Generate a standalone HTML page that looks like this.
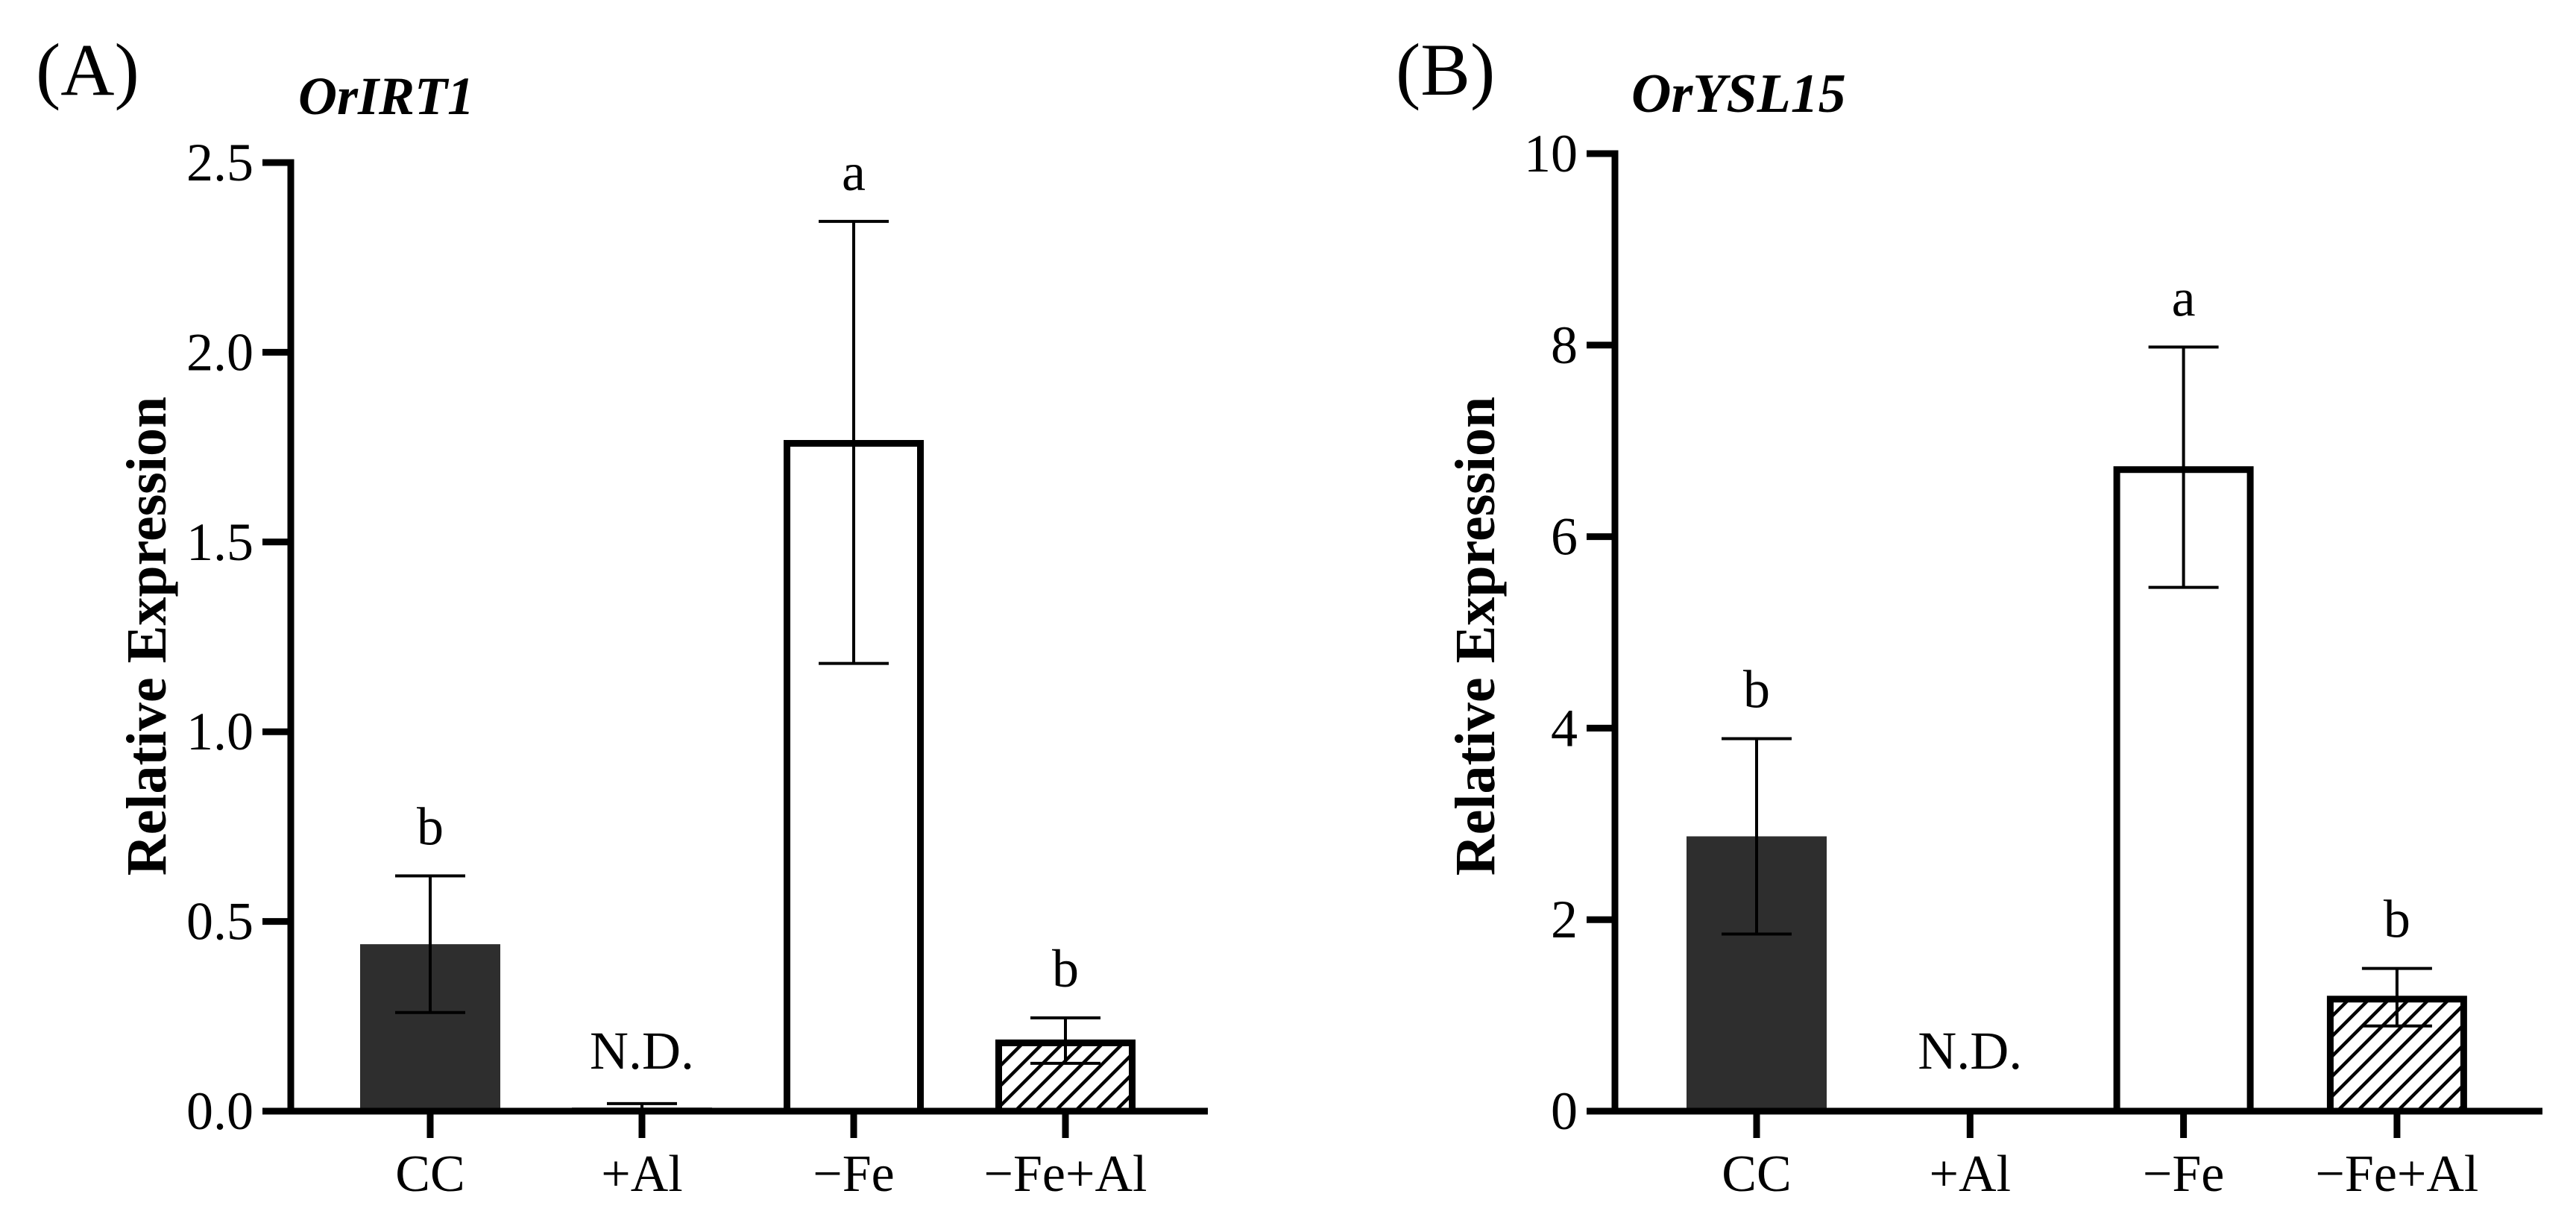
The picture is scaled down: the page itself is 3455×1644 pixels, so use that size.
<!DOCTYPE html>
<html><head><meta charset="utf-8"><style>
html,body{margin:0;padding:0;background:#fff;}
svg{display:block;}
text{font-family:"Liberation Serif",serif;fill:#000;}
</style></head><body>
<svg id="fig" width="3455" height="1644" viewBox="0 0 3455 1644" xmlns="http://www.w3.org/2000/svg">
<defs>
<pattern id="hatch" patternUnits="userSpaceOnUse" width="19" height="19" patternTransform="rotate(45)">
<rect width="19" height="19" fill="#fff"/>
<line x1="0" y1="0" x2="0" y2="19" stroke="#000" stroke-width="9"/>
</pattern>
</defs>
<text x="48" y="127" font-size="100">(A)</text>
<text x="400" y="153" font-size="72" font-weight="bold" font-style="italic">OrIRT1</text>
<text x="1872" y="127" font-size="100">(B)</text>
<text x="2188" y="150" font-size="74" font-weight="bold" font-style="italic">OrYSL15</text>
<g id="pa"></g>
<g id="pb"></g>
</svg>
<script>
const categories = ["CC", "+Al", "\u2212Fe", "\u2212Fe+Al"];
const aValues = [0.44, 0.01, 1.76, 0.18];
const aErrLow = [0.26, 0.0, 1.18, 0.126];
const aErrHigh = [0.62, 0.02, 2.345, 0.246];
const aLetters = ["b", "N.D.", "a", "b"];
const aTicks = ["0.0", "0.5", "1.0", "1.5", "2.0", "2.5"];
const bValues = [2.87, 0, 6.70, 1.17];
const bErrLow = [1.85, 0, 5.47, 0.89];
const bErrHigh = [3.89, 0, 7.98, 1.49];
const bLetters = ["b", "N.D.", "a", "b"];
const bTicks = ["0", "2", "4", "6", "8", "10"];

const NS = "http://www.w3.org/2000/svg";
function mk(parent, tag, attrs) {
  const e = document.createElementNS(NS, tag);
  for (const k in attrs) e.setAttribute(k, attrs[k]);
  parent.appendChild(e);
  return e;
}
const styles = [
  {fill: "#2e2e2e", stroke: "none"},
  {fill: "#888", stroke: "none"},
  {fill: "#fff", stroke: "#000"},
  {fill: "url(#hatch)", stroke: "#000"}
];

function drawPanel(g, cfg, values, lo, hi, letters, ticks) {
  const y = v => cfg.y0 - (v / cfg.max) * (cfg.y0 - cfg.yTop);
  const x = i => cfg.x0 + cfg.step * i;
  const bw = 188;
  categories.forEach((c, i) => {
    const st = styles[i];
    const v = values[i];
    if (v > 0) {
      let r;
      if (st.stroke === "none") {
        r = mk(g, "rect", {x: x(i) - bw / 2, y: y(v), width: bw, height: cfg.y0 - y(v), fill: st.fill});
      } else {
        r = mk(g, "rect", {x: x(i) - bw / 2 + 4.5, y: y(v), width: bw - 9, height: cfg.y0 - y(v), fill: st.fill, stroke: "#000", "stroke-width": 9});
      }
      
      
    }
    if (hi[i] > 0) {
      const eg = mk(g, "g", {stroke: "#000", "stroke-width": 4});
      
      
      mk(eg, "line", {x1: x(i), x2: x(i), y1: y(hi[i]), y2: y(lo[i])});
      mk(eg, "line", {x1: x(i) - 47, x2: x(i) + 47, y1: y(hi[i]), y2: y(hi[i])});
      if (lo[i] > 0) mk(eg, "line", {x1: x(i) - 47, x2: x(i) + 47, y1: y(lo[i]), y2: y(lo[i])});
    }
    const ly = letters[i] === "N.D." ? 1433 : y(hi[i]) - 42;
    const t = mk(g, "text", {x: x(i), y: ly, "font-size": 72, "text-anchor": "middle"});
    t.textContent = letters[i];
    
    
    const tk = mk(g, "line", {x1: x(i), x2: x(i), y1: cfg.y0, y2: cfg.y0 + 36, stroke: "#000", "stroke-width": 9});
    
    
    const cl = mk(g, "text", {x: x(i), y: 1597, "font-size": 70, "text-anchor": "middle"});
    cl.textContent = c;
    
    
  });
  ticks.forEach((tl, j) => {
    const v = cfg.max * j / (ticks.length - 1);
    const tk = mk(g, "line", {x1: cfg.ax - 38, x2: cfg.ax, y1: y(v), y2: y(v), stroke: "#000", "stroke-width": 9});
    
    
    const t = mk(g, "text", {x: cfg.ax - 50, y: y(v) + 24, "font-size": 72, "text-anchor": "end"});
    t.textContent = tl;
    
    
  });
  const ya = mk(g, "line", {x1: cfg.ax, x2: cfg.ax, y1: cfg.yTop - 4.5, y2: cfg.y0, stroke: "#000", "stroke-width": 9});
  
  
  const xa = mk(g, "line", {x1: cfg.xa0, x2: cfg.xa1, y1: cfg.y0, y2: cfg.y0, stroke: "#000", "stroke-width": 9});
  
  
  const tt = mk(g, "text", {x: 0, y: 0, "font-size": 76, "font-weight": "bold", "text-anchor": "middle", transform: "translate(" + cfg.titleX + ",853) rotate(-90)"});
  tt.textContent = "Relative Expression";
  
  
}
drawPanel(document.getElementById("pa"), {ax: 390, y0: 1490, yTop: 218, max: 2.5, x0: 577, step: 284, xa0: 352, xa1: 1620, titleX: 222}, aValues, aErrLow, aErrHigh, aLetters, aTicks);
drawPanel(document.getElementById("pb"), {ax: 2166, y0: 1490, yTop: 206, max: 10, x0: 2356, step: 286.3, xa0: 2129, xa1: 3410, titleX: 2004}, bValues, bErrLow, bErrHigh, bLetters, bTicks);
</script>
</body></html>
